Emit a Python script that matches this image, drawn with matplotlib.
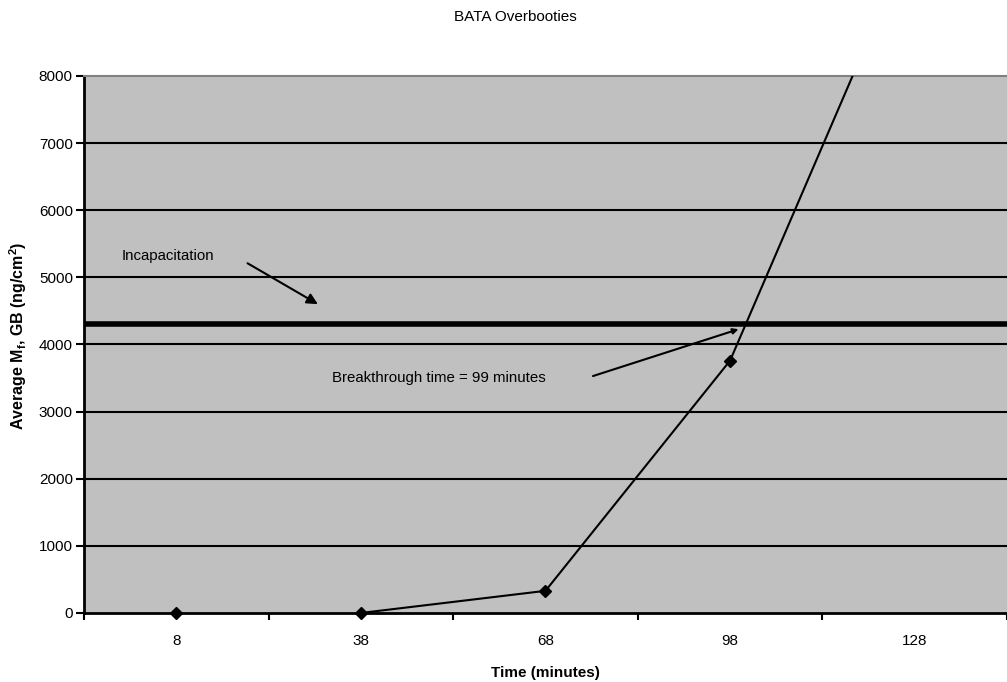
import numpy as np
import matplotlib
matplotlib.use('Agg')
import matplotlib.pyplot as plt

plt.rcParams['font.family'] = ['Liberation Sans', 'DejaVu Sans']

# Data
times = ['8', '38', '68', '98', '128']
avg_mf = [0, 0, 330, 3760, 10150]
incapacitation = 4300
y_ticks = [0, 1000, 2000, 3000, 4000, 5000, 6000, 7000, 8000]

fig = plt.figure(figsize=(10.07, 6.82), dpi=100)
ax = fig.add_axes([0.0834, 0.1012, 0.9166, 0.7874])
ax.set_facecolor('#c0c0c0')

x = np.arange(len(times))

# gridlines
for v in y_ticks[1:-1]:
    ax.axhline(v, color='black', lw=1.5, zorder=1)

# incapacitation threshold
ax.axhline(incapacitation, color='black', lw=4, zorder=2)

# first point stands alone, line starts at 38
ax.plot(x[:1], avg_mf[:1], linestyle='none', marker='D', color='black', markersize=6,
        zorder=4, clip_on=False)
ax.plot(x[1:], avg_mf[1:], color='black', lw=1.5, zorder=3)
ax.plot(x[1:4], avg_mf[1:4], linestyle='none', marker='D', color='black', markersize=6,
        zorder=4, clip_on=False)

ax.set_xlim(-0.5, 4.5)
ax.set_ylim(0, 8000)
ax.set_yticks(y_ticks)
ax.set_xticks(x)
ax.set_xticklabels(times)
ax.set_xticks(np.arange(-0.5, 4.6, 1.0), minor=True)
ax.tick_params(axis='x', which='major', length=0, pad=15, labelsize=11)
ax.tick_params(axis='x', which='minor', length=5, width=1.5, direction='out')
ax.tick_params(axis='y', length=6, width=1.5, direction='out', labelsize=11, pad=2)

for s in ['left', 'bottom']:
    ax.spines[s].set_linewidth(2)
    ax.spines[s].set_color('black')
ax.spines['top'].set_color('#808080')
ax.spines['top'].set_linewidth(1.5)
ax.spines['right'].set_visible(False)

ax.set_xlabel('Time (minutes)', fontsize=11, fontweight='bold', labelpad=13)
ax.set_ylabel('Average M$_\\mathregular{f}$, GB (ng/cm$^\\mathregular{2}$)', fontsize=11.5,
              fontweight='bold')
ax.yaxis.set_label_coords(-0.06, 0.516)
fig.text(0.512, 0.975, 'BATA Overbooties', ha='center', va='center', fontsize=11)

# annotations
ax.text(-0.297, 5320, 'Incapacitation', fontsize=10.8, va='center', ha='left')
ax.annotate('', xy=(0.78, 4580), xytext=(0.373, 5231),
            arrowprops=dict(arrowstyle='-|>', color='black', lw=1.5, mutation_scale=16))
ax.text(0.843, 3502, 'Breakthrough time = 99 minutes', fontsize=10.8, va='center', ha='left')
ax.annotate('', xy=(3.06, 4240), xytext=(2.243, 3517),
            arrowprops=dict(arrowstyle='-|>', color='black', lw=1.5, mutation_scale=8))

fig.savefig('out.png', dpi=100)
